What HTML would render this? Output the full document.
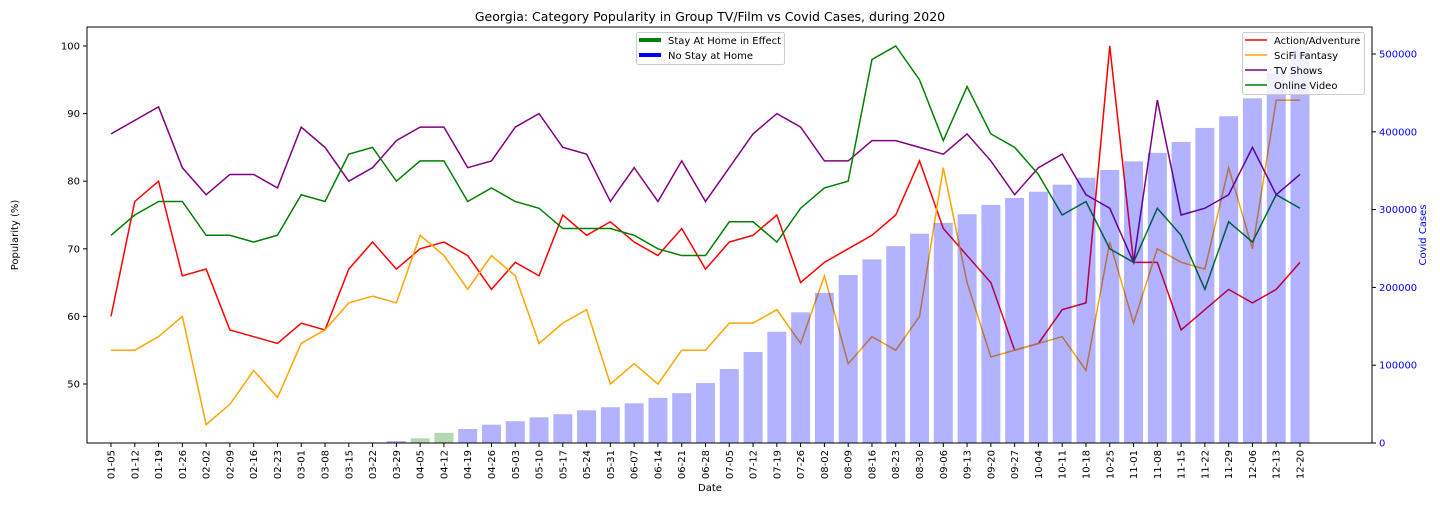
<!DOCTYPE html>
<html><head><meta charset="utf-8"><style>
body{margin:0;background:#fff;font-family:"Liberation Sans","DejaVu Sans",sans-serif;}
svg text{font-family:"DejaVu Sans","Liberation Sans",sans-serif;}
</style></head><body>
<svg id="chart" width="1440" height="504" xmlns="http://www.w3.org/2000/svg"></svg>
<script>
const categories=["01-05","01-12","01-19","01-26","02-02","02-09","02-16","02-23","03-01","03-08","03-15","03-22","03-29","04-05","04-12","04-19","04-26","05-03","05-10","05-17","05-24","05-31","06-07","06-14","06-21","06-28","07-05","07-12","07-19","07-26","08-02","08-09","08-16","08-23","08-30","09-06","09-13","09-20","09-27","10-04","10-11","10-18","10-25","11-01","11-08","11-15","11-22","11-29","12-06","12-13","12-20"];
const action=[60,77,80,66,67,58,57,56,59,58,67,71,67,70,71,69,64,68,66,75,72,74,71,69,73,67,71,72,75,65,68,70,72,75,83,73,69,65,55,56,61,62,100,68,68,58,61,64,62,64,68];
const scifi=[55,55,57,60,44,47,52,48,56,58,62,63,62,72,69,64,69,66,56,59,61,50,53,50,55,55,59,59,61,56,66,53,57,55,60,82,65,54,55,56,57,52,71,59,70,68,67,82,70,92,92];
const tvShows=[87,89,91,82,78,81,81,79,88,85,80,82,86,88,88,82,83,88,90,85,84,77,82,77,83,77,82,87,90,88,83,83,86,86,85,84,87,83,78,82,84,78,76,68,92,75,76,78,85,78,81];
const onlineVideo=[72,75,77,77,72,72,71,72,78,77,84,85,80,83,83,77,79,77,76,73,73,73,72,70,69,69,74,74,71,76,79,80,98,100,95,86,94,87,85,81,75,77,70,68,76,72,64,74,71,78,76];
const covidCases=[0,0,0,0,0,0,0,0,0,0,0,0,2500,6000,13000,18000,23500,28000,33000,37000,42000,46000,51000,58000,64000,77000,95000,117000,143000,168000,193000,216000,236000,253000,269000,283000,294000,306000,315000,323000,332000,341000,351000,362000,373000,387000,405000,420000,443000,476000,509000];
const stayHome=[false,false,false,false,false,false,false,false,false,false,false,false,false,true,true,false,false,false,false,false,false,false,false,false,false,false,false,false,false,false,false,false,false,false,false,false,false,false,false,false,false,false,false,false,false,false,false,false,false,false,false];
const leftTicks=[50,60,70,80,90,100];
const rightTicks=[0,100000,200000,300000,400000,500000];

const NS="http://www.w3.org/2000/svg";
const svg=document.getElementById('chart');
const L=87,R=1372,T=27,B=443;
const xS=i=>111+i*23.78;
const yL=v=>46+(100-v)*6.76;
const yR=v=>443-v*77.8/100000;
function mk(tag,attrs,parent){const e=document.createElementNS(NS,tag);for(const k in attrs)e.setAttribute(k,attrs[k]);(parent||svg).appendChild(e);return e;}
function txt(s,attrs,parent){const e=mk('text',attrs,parent);e.textContent=s;return e;}

const title=txt("Georgia: Category Popularity in Group TV/Film vs Covid Cases, during 2020",{x:710,y:21,'text-anchor':'middle','font-size':12.5});



// lines
const series=[[action,'red','action-adventure-line'],[scifi,'orange','scifi-fantasy-line'],[tvShows,'purple','tv-shows-line'],[onlineVideo,'green','online-video-line']];
series.forEach(([d,c,n])=>{
  const p=mk('polyline',{points:d.map((v,i)=>xS(i)+','+yL(v)).join(' '),fill:'none',stroke:c,'stroke-width':1.5});
  
  
});
// bars on top
covidCases.forEach((v,i)=>{
  const y=yR(v);
  const b=mk('rect',{x:xS(i)-9.5,y:y,width:19,height:B-y,fill:stayHome[i]?'#008000':'#0000ff','fill-opacity':0.3});
  
  
});
const frame=mk('rect',{x:L,y:T,width:R-L,height:B-T,fill:'none',stroke:'#000','stroke-width':1});



// left ticks
leftTicks.forEach(v=>{
  const y=yL(v);
  mk('line',{x1:L-4,x2:L,y1:y,y2:y,stroke:'#000'});
  const t=txt(v,{x:L-7,y:y+3.5,'text-anchor':'end','font-size':10});
  
  
});
rightTicks.forEach(v=>{
  const y=yR(v);
  mk('line',{x1:R,x2:R+4,y1:y,y2:y,stroke:'#000'});
  const t=txt(v,{x:R+7,y:y+3.5,'font-size':10,fill:'blue'});
  
  
});
categories.forEach((c,i)=>{
  const x=xS(i);
  mk('line',{x1:x,x2:x,y1:B,y2:B+4,stroke:'#000'});
  const t=txt(c,{x:0,y:0,'font-size':10,'text-anchor':'end',transform:`translate(${x+3.5},${B+7}) rotate(-90)`});
  
  
});
const xl=txt("Date",{x:710,y:491,'text-anchor':'middle','font-size':10});


const yl=txt("Popularity (%)",{x:0,y:0,'text-anchor':'middle','font-size':10,transform:'translate(18,235) rotate(-90)'});


const yr=txt("Covid Cases",{x:0,y:0,'text-anchor':'middle','font-size':10,fill:'blue',transform:'translate(1426,235) rotate(-90)'});



// legend 1
const lg1=mk('g',{});


mk('rect',{x:636.5,y:32.5,width:148,height:32,fill:'#fff','fill-opacity':0.8,stroke:'#ccc',rx:2},lg1);
[['Stay At Home in Effect','green',45],['No Stay at Home','blue',60]].forEach(([s,c,y])=>{
  mk('line',{x1:639,x2:661,y1:y-5,y2:y-5,stroke:c,'stroke-width':4},lg1);
  const t=txt(s,{x:668,y:y-1,'font-size':10},lg1);
  
  
});
// legend 2
const lg2=mk('g',{});


mk('rect',{x:1242.5,y:32.5,width:122,height:62,fill:'#fff','fill-opacity':0.8,stroke:'#ccc',rx:2},lg2);
[['Action/Adventure','red'],['SciFi Fantasy','orange'],['TV Shows','purple'],['Online Video','green']].forEach(([s,c],i)=>{
  const y=40+i*15;
  mk('line',{x1:1245,x2:1267,y1:y,y2:y,stroke:c,'stroke-width':1.5},lg2);
  const t=txt(s,{x:1274,y:y+4,'font-size':10},lg2);
  
  
});
</script>
</body></html>
